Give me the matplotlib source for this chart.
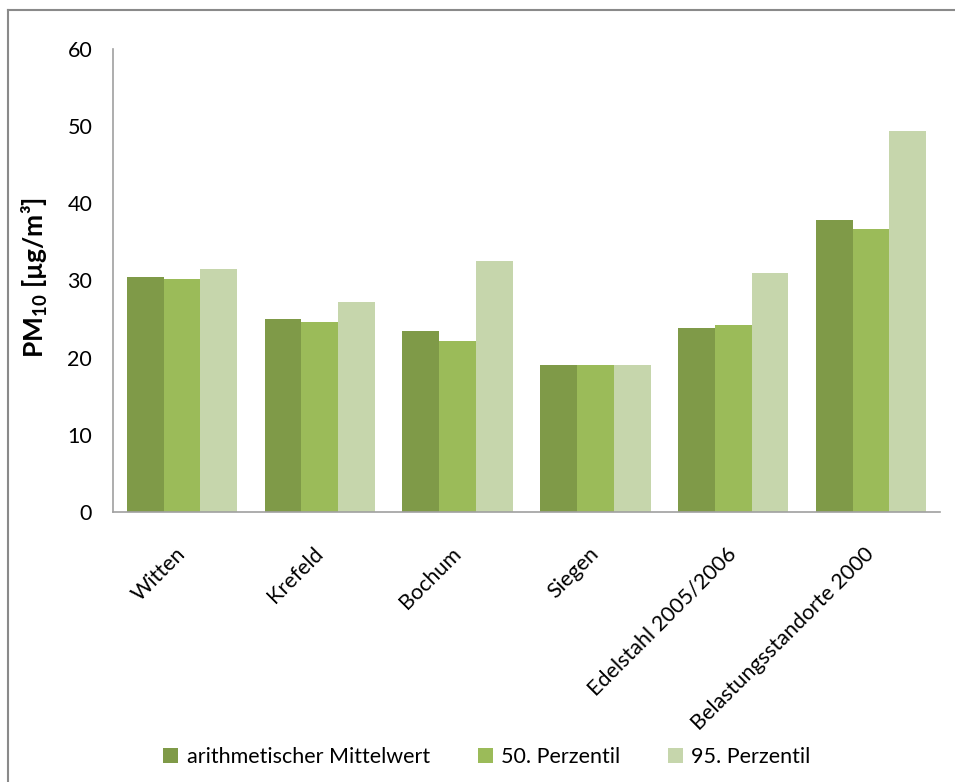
import matplotlib
matplotlib.use("Agg")
import matplotlib.pyplot as plt
import numpy as np
from matplotlib.lines import Line2D

categories = ["Witten", "Krefeld", "Bochum", "Siegen", "Edelstahl 2005/2006", "Belastungsstandorte 2000"]
mittelwert = [30.4, 25.0, 23.4, 19.1, 23.9, 37.8]
perz50 = [30.2, 24.6, 22.1, 19.1, 24.2, 36.7]
perz95 = [31.5, 27.2, 32.5, 19.1, 31.0, 49.4]
series_names = ["arithmetischer Mittelwert", "50. Perzentil", "95. Perzentil"]
colors = ["#7f9a48", "#9bbb59", "#c6d6ac"]

plt.rcParams['font.family'] = ['Lato', 'DejaVu Sans']
plt.rcParams['mathtext.default'] = 'regular'

fig = plt.figure(figsize=(9.55, 7.82), dpi=100)
ax = fig.add_axes([113/955, 1-512/782, (940-113)/955, (512-49)/782])

x = np.arange(len(categories))
w = 0.8/3
for i, (vals, name, c) in enumerate(zip([mittelwert, perz50, perz95], series_names, colors)):
    ax.bar(x + (i-1)*w, vals, width=w, color=c, label=name, edgecolor='none')

ax.set_xlim(-0.5, len(categories)-0.5)
ax.set_ylim(0, 60)
ax.set_yticks(np.arange(0, 61, 10))
ax.tick_params(axis='y', length=0, pad=15, labelsize=15.5)
ax.tick_params(axis='x', length=0, pad=28, labelsize=15.5)
ax.set_xticks(x)
ax.set_xticklabels(categories, rotation=45, ha='right', va='center', rotation_mode='anchor')
for s in ['top', 'right']:
    ax.spines[s].set_visible(False)
for s in ['left', 'bottom']:
    ax.spines[s].set_color('#a0a0a0')
    ax.spines[s].set_linewidth(1.2)

fig.text(35/955, 1-278/782, 'PM$_{10}$ [µg/m³]', rotation=90, ha='center', va='center',
         fontsize=19, fontweight='bold')

ax.legend(loc='center', bbox_to_anchor=(487/955, 1-757/782), bbox_transform=fig.transFigure,
          ncol=3, frameon=False, fontsize=15.5, handlelength=0.7, handleheight=0.7,
          handletextpad=0.4, columnspacing=2.2)

fig.add_artist(Line2D([8/955, 8/955], [0, 1-10/782], color='#8a8a8a', lw=1.5, transform=fig.transFigure))
fig.add_artist(Line2D([8/955, 1], [1-10/782, 1-10/782], color='#8a8a8a', lw=1.5, transform=fig.transFigure))

fig.savefig("out.png", dpi=100)
